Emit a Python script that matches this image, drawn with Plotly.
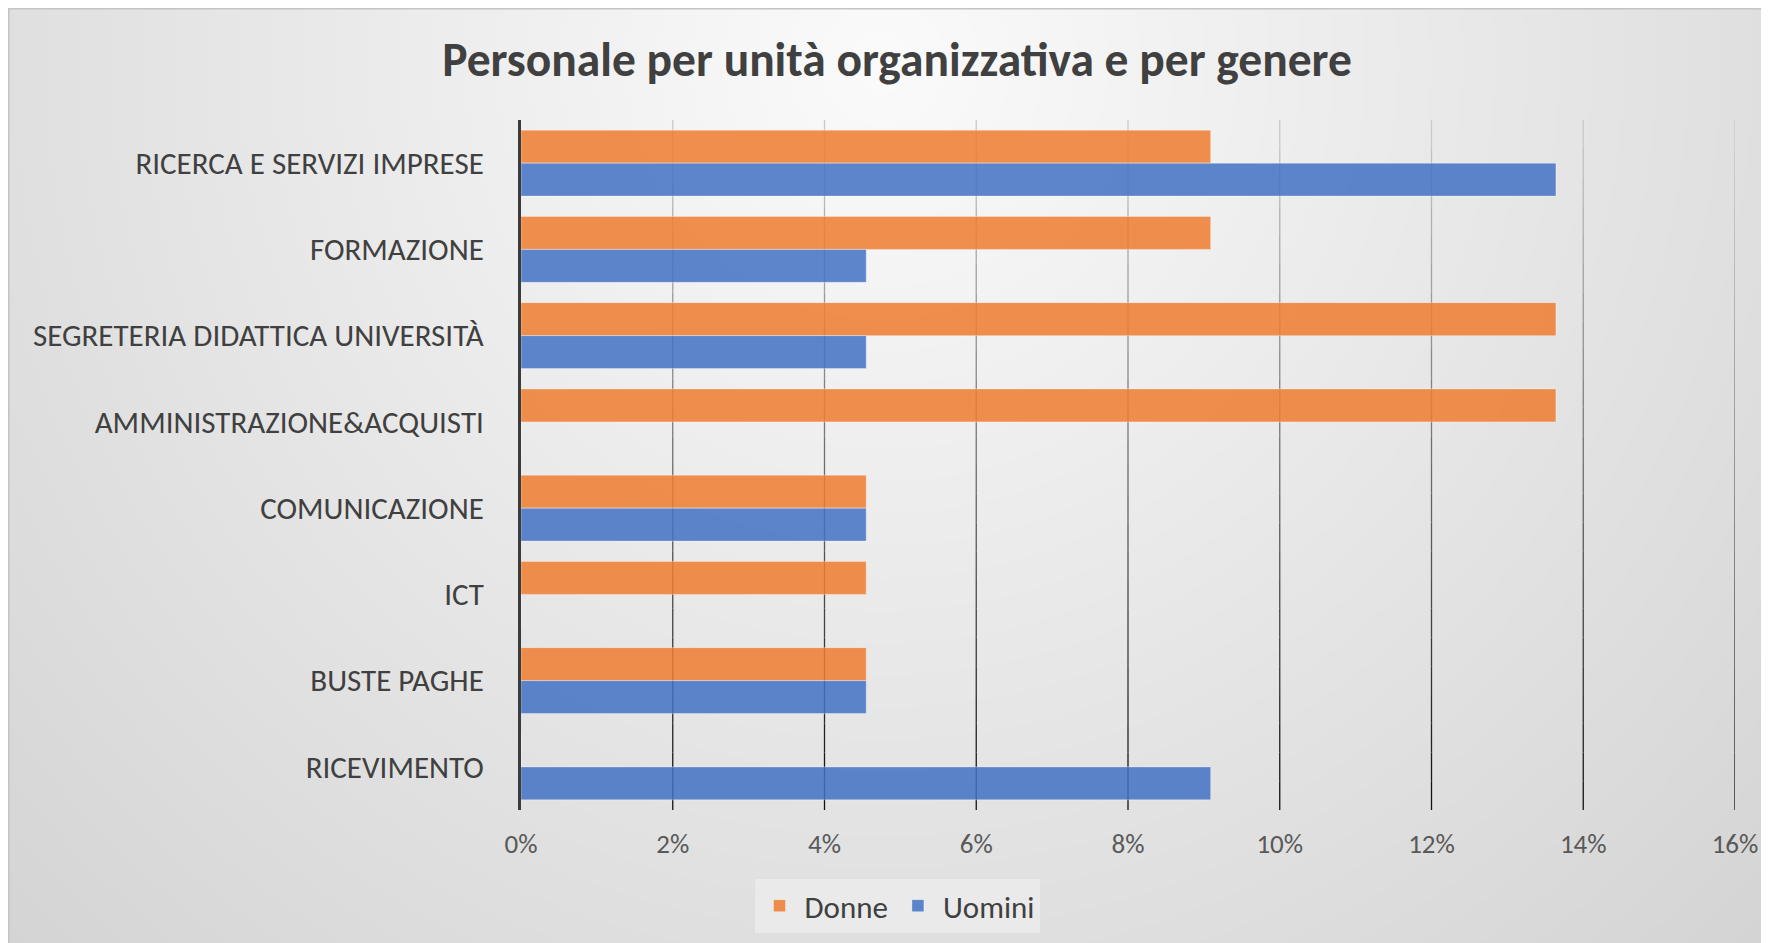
import base64, struct, zlib
import numpy as np
import plotly.graph_objects as go

# ---- data ----
categories = ["RICERCA E SERVIZI IMPRESE", "FORMAZIONE", "SEGRETERIA DIDATTICA UNIVERSITÀ",
              "AMMINISTRAZIONE&ACQUISTI", "COMUNICAZIONE", "ICT", "BUSTE PAGHE", "RICEVIMENTO"]
donne = [0.0909, 0.0909, 0.1364, 0.1364, 0.0455, 0.0455, 0.0455, 0.0]
uomini = [0.1364, 0.0455, 0.0455, 0.0, 0.0455, 0.0, 0.0455, 0.0909]
tick_vals = [0.0, 0.02, 0.04, 0.06, 0.08, 0.10, 0.12, 0.14, 0.16]
tick_text = ["0%", "2%", "4%", "6%", "8%", "10%", "12%", "14%", "16%"]
title_text = "Personale per unità organizzativa e per genere"

W, H = 1769, 943
L, R, T, B = 513, 1727, 112, 802
PW, PH = R - L, B - T

FONT = "Carlito, Lato, sans-serif"
TXT = "#404040"


def px2paper_x(px):
    return (px - L) / PW


def px2paper_y(py):
    return (B - py) / PH


# ---- background gradient image (radial, light near the title) ----
def png_gray(arr):
    h, w = arr.shape
    raw = b"".join(b"\x00" + arr[i].tobytes() for i in range(h))

    def chunk(t, d):
        c = struct.pack(">I", len(d)) + t + d
        return c + struct.pack(">I", zlib.crc32(t + d) & 0xFFFFFFFF)

    return (b"\x89PNG\r\n\x1a\n"
            + chunk(b"IHDR", struct.pack(">IIBBBBB", w, h, 8, 0, 0, 0, 0))
            + chunk(b"IDAT", zlib.compress(raw, 9))
            + chunk(b"IEND", b""))


sc = 4
gw, gh = W // sc, H // sc
yy, xx = np.mgrid[0:gh, 0:gw]
d = np.hypot(xx * sc - 872, yy * sc - 52)
v = np.clip(251 - 0.031 * d, 200, 252).astype(np.uint8)
bg_uri = "data:image/png;base64," + base64.b64encode(png_gray(v)).decode()

fig = go.Figure()
fig.add_trace(go.Bar(
    y=categories, x=donne, name="Donne", orientation="h",
    marker=dict(color="rgba(237,125,49,0.86)", line=dict(color="rgba(255,255,255,0.35)", width=1)),
))
fig.add_trace(go.Bar(
    y=categories, x=uomini, name="Uomini", orientation="h",
    marker=dict(color="rgba(68,114,196,0.86)", line=dict(color="rgba(255,255,255,0.35)", width=1)),
))

# gradient gridlines (light at top, dark at bottom)
shapes = []
nseg = 24
for tv in tick_vals[1:]:
    for k in range(nseg):
        y0 = 1 - k / nseg
        y1 = 1 - (k + 1) / nseg
        f = (k + 0.5) / nseg
        g = int(205 - f * 190)
        shapes.append(dict(type="line", xref="x", yref="paper", x0=tv, x1=tv, y0=y0, y1=y1,
                           line=dict(color=f"rgb({g},{g},{g})", width=1.3), layer="below"))
# chart border (top/left visible)
shapes.append(dict(type="line", xref="paper", yref="paper",
                   x0=px2paper_x(0.5), x1=px2paper_x(0.5), y0=px2paper_y(0), y1=px2paper_y(H + 5),
                   line=dict(color="#c4c4c4", width=2), layer="above"))
shapes.append(dict(type="line", xref="paper", yref="paper",
                   x0=px2paper_x(0), x1=px2paper_x(W + 5), y0=px2paper_y(0.5), y1=px2paper_y(0.5),
                   line=dict(color="#c4c4c4", width=2), layer="above"))

fig.update_layout(
    width=W, height=H,
    margin=dict(l=L, r=W - R, t=T, b=H - B),
    paper_bgcolor="#e0e0e0",
    plot_bgcolor="rgba(0,0,0,0)",
    barmode="group",
    bargap=0.235,
    bargroupgap=0,
    font=dict(family=FONT, color=TXT),
    title=dict(text=f"<b>{title_text}</b>", x=px2paper_x(889), xref="paper", xanchor="center",
               y=1 - 51 / H, yref="container", yanchor="middle",
               font=dict(family=FONT, size=47.5, color=TXT)),
    xaxis=dict(range=[0, 0.16], tickvals=tick_vals, ticktext=tick_text, showgrid=False,
               zeroline=False, showline=False, ticks="", ticklabelstandoff=15,
               tickfont=dict(family=FONT, size=27, color="#595959")),
    yaxis=dict(categoryorder="array", categoryarray=categories, autorange="reversed",
               showgrid=False, zeroline=False, showline=True, linecolor="#3c3c3c", linewidth=3,
               ticks="", ticklabelstandoff=28,
               tickfont=dict(family=FONT, size=31, color=TXT)),
    legend=dict(orientation="h", x=px2paper_x(889), xanchor="center", y=px2paper_y(871), yanchor="top",
                bgcolor="rgba(236,236,236,0.8)", font=dict(family=FONT, size=31, color=TXT),
                itemwidth=40, traceorder="normal"),
    shapes=shapes,
    images=[dict(source=bg_uri, xref="paper", yref="paper",
                 x=px2paper_x(0), y=px2paper_y(0),
                 sizex=W / PW, sizey=H / PH, sizing="stretch",
                 xanchor="left", yanchor="top", layer="below")],
    showlegend=True,
)

fig.write_html("out.html")
